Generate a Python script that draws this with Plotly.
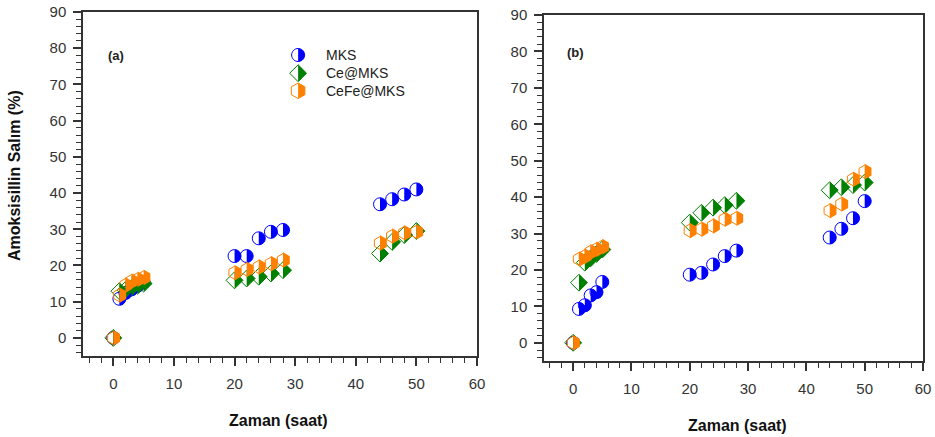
import math
import plotly.graph_objects as go

# ---------------- data ----------------
time_a = [0, 1, 2, 3, 4, 5, 20, 22, 24, 26, 28, 44, 46, 48, 50]
mks_a = [0, 10.8, 12.4, 13.4, 14.4, 15.3, 22.6, 22.6, 27.5, 29.3, 29.8, 36.9, 38.3, 39.6, 41.0]
ce_a = [0, 12.9, 13.2, 13.8, 14.4, 15.0, 15.9, 16.4, 16.9, 17.8, 18.7, 23.3, 26.5, 28.4, 29.5]
cefe_a = [0, 11.8, 14.6, 15.7, 16.2, 16.7, 18.0, 18.9, 19.6, 20.5, 21.5, 26.2, 28.1, 29.0, 29.3]

time_b = [0, 1, 2, 3, 4, 5, 20, 22, 24, 26, 28, 44, 46, 48, 50]
mks_b = [0, 9.3, 10.3, 13.0, 13.9, 16.7, 18.7, 19.2, 21.5, 23.8, 25.3, 28.9, 31.3, 34.2, 38.9]
ce_b = [0, 16.5, 22.0, 23.2, 24.4, 25.6, 33.0, 35.7, 37.1, 37.8, 39.0, 41.9, 42.7, 43.3, 44.0]
cefe_b = [0, 23.0, 23.8, 25.0, 25.7, 26.4, 30.8, 31.2, 32.1, 33.9, 34.2, 36.3, 38.1, 44.9, 47.0]

series_names = ["MKS", "Ce@MKS", "CeFe@MKS"]
x_ticks = [0, 10, 20, 30, 40, 50, 60]
y_ticks = [0, 10, 20, 30, 40, 50, 60, 70, 80, 90]
panel_labels = ["(a)", "(b)"]
x_title = "Zaman (saat)"
y_title = "Amoksisillin Salım (%)"

# ---------------- styles ----------------
colors = {"MKS": "#0000FF", "Ce@MKS": "#008000", "CeFe@MKS": "#FF8000"}
symbols = {"MKS": "circle", "Ce@MKS": "diamond", "CeFe@MKS": "hexagon"}
MSIZE = 13
R = MSIZE / 2.0
FONT = "Liberation Sans, Arial"


def fmt(v):
    return f"{v:.2f}"


def half_path(sym):
    if sym == "circle":
        pts = [(R * math.cos(math.radians(a)), R * math.sin(math.radians(a)))
               for a in range(-90, 91, 10)]
    elif sym == "diamond":
        rd = R * 1.3
        pts = [(0, -rd), (rd, 0), (0, rd)]
    else:
        y1, y2, x1 = R * 1.2, R * 0.6, R * 1.04
        pts = [(0, -y1), (x1, -y2), (x1, y2), (0, y1)]
    return "M " + " L ".join(f"{fmt(px)},{fmt(py)}" for px, py in pts) + " Z"


def full_path(sym):
    if sym == "circle":
        pts = [(R * math.cos(math.radians(a)), R * math.sin(math.radians(a)))
               for a in range(0, 360, 10)]
    elif sym == "diamond":
        rd = R * 1.3
        pts = [(0, -rd), (rd, 0), (0, rd), (-rd, 0)]
    else:
        y1, y2, x1 = R * 1.2, R * 0.6, R * 1.04
        pts = [(0, -y1), (x1, -y2), (x1, y2), (0, y1), (-x1, y2), (-x1, -y2)]
    return "M " + " L ".join(f"{fmt(px)},{fmt(py)}" for px, py in pts) + " Z"


fig = go.Figure()
shapes = []

panels = [
    ("x", "y", time_a, [mks_a, ce_a, cefe_a]),
    ("x2", "y2", time_b, [mks_b, ce_b, cefe_b]),
]

for xa, ya, tx, ys in panels:
    for name, vals in zip(series_names, ys):
        c = colors[name]
        fig.add_trace(go.Scatter(
            x=tx, y=vals, mode="markers", name=name, showlegend=False,
            xaxis=xa, yaxis=ya,
            marker=dict(symbol=symbols[name] + "-open", size=MSIZE,
                        color=c, line=dict(color=c, width=1)),
        ))
        for xv, yv in zip(tx, vals):
            shapes.append(dict(
                type="path", xref=xa, yref=ya, xsizemode="pixel", ysizemode="pixel",
                xanchor=xv, yanchor=yv, path=half_path(symbols[name]),
                fillcolor=c, line=dict(width=0), layer="above",
            ))

# manual legend in panel (a)
leg_x = 0.546
leg_text_x = 0.612
leg_ys = [0.875, 0.822, 0.771]
annotations = []
for name, ly in zip(series_names, leg_ys):
    c = colors[name]
    shapes.append(dict(type="path", xref="x domain", yref="y domain",
                       xsizemode="pixel", ysizemode="pixel", xanchor=leg_x, yanchor=ly,
                       path=full_path(symbols[name]), fillcolor="white",
                       line=dict(color=c, width=1), layer="above"))
    shapes.append(dict(type="path", xref="x domain", yref="y domain",
                       xsizemode="pixel", ysizemode="pixel", xanchor=leg_x, yanchor=ly,
                       path=half_path(symbols[name]), fillcolor=c,
                       line=dict(width=0), layer="above"))
    annotations.append(dict(text=name, xref="x domain", yref="y domain", x=leg_text_x, y=ly,
                            xanchor="left", yanchor="middle", showarrow=False,
                            font=dict(size=14, color="#222222", family=FONT)))

# panel labels
annotations.append(dict(text="<b>" + panel_labels[0] + "</b>", xref="x domain", yref="y domain",
                        x=0.084, y=0.875, xanchor="center", yanchor="middle", showarrow=False,
                        font=dict(size=13, color="#222222", family=FONT)))
annotations.append(dict(text="<b>" + panel_labels[1] + "</b>", xref="x2 domain", yref="y2 domain",
                        x=0.083, y=0.893, xanchor="center", yanchor="middle", showarrow=False,
                        font=dict(size=13, color="#222222", family=FONT)))

# axis titles
title_font = dict(size=16, color="#111111", family=FONT)
annotations.append(dict(text="<b>" + x_title + "</b>", xref="paper", yref="paper",
                        x=278 / 935, y=1 - 420 / 437, xanchor="center", yanchor="middle",
                        showarrow=False, font=title_font))
annotations.append(dict(text="<b>" + x_title + "</b>", xref="paper", yref="paper",
                        x=737 / 935, y=1 - 425 / 437, xanchor="center", yanchor="middle",
                        showarrow=False, font=title_font))
annotations.append(dict(text="<b>" + y_title + "</b>", xref="paper", yref="paper",
                        x=14 / 935, y=1 - 176 / 437, xanchor="center", yanchor="middle",
                        showarrow=False, textangle=-90, font=title_font))

axis_common = dict(
    showline=True, linecolor="#333333", linewidth=1.5, mirror=True,
    ticks="outside", ticklen=8, tickwidth=1.5, tickcolor="#333333",
    showgrid=False, zeroline=False, automargin=False,
    tickfont=dict(size=15, color="#333333", family=FONT),
    minor=dict(dtick=2, ticks="outside", ticklen=5, tickwidth=1, tickcolor="#333333",
               showgrid=False),
)

fig.update_layout(
    width=935, height=437,
    margin=dict(l=0, r=0, t=0, b=0, pad=0, autoexpand=False),
    paper_bgcolor="white", plot_bgcolor="white",
    showlegend=False,
    shapes=shapes,
    annotations=annotations,
    xaxis=dict(domain=[83 / 935, 477 / 935], range=[-5, 60], tickvals=x_ticks,
               anchor="y", ticklabelstandoff=5, **axis_common),
    yaxis=dict(domain=[1 - 356 / 437, 1 - 12 / 437], range=[-5, 90], tickvals=y_ticks,
               anchor="x", ticklabelstandoff=4, **axis_common),
    xaxis2=dict(domain=[544 / 935, 923 / 935], range=[-5, 60], tickvals=x_ticks,
                anchor="y2", ticklabelstandoff=5, **axis_common),
    yaxis2=dict(domain=[1 - 361 / 437, 1 - 15 / 437], range=[-5, 90], tickvals=y_ticks,
                anchor="x2", ticklabelstandoff=4, **axis_common),
)

fig.write_html("out.html", config={"displayModeBar": False},
               post_script="document.body.style.margin='0';document.body.style.overflow='hidden';")
